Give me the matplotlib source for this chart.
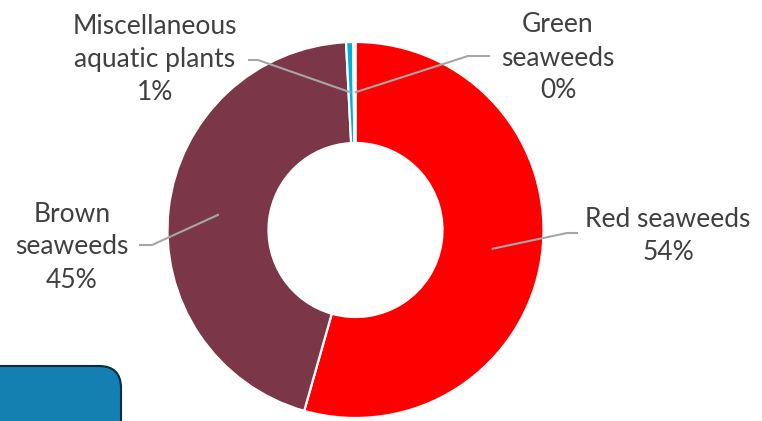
import numpy as np
import matplotlib.pyplot as plt
from matplotlib.patches import FancyBboxPatch

# production share by seaweed group
groups = ["Red seaweeds", "Brown\nseaweeds", "Miscellaneous\naquatic plants", "Green\nseaweeds"]
shares = [54.4, 44.8, 0.6, 0.2]
pct_labels = ["54%", "45%", "1%", "0%"]
colors = ["#FF0000", "#7B3648", "#00B0DC", "#5BA33B"]

plt.rcParams["font.family"] = ["Lato", "DejaVu Sans"]

W, H = 762, 421
fig = plt.figure(figsize=(W / 100, H / 100), dpi=100)
ax = fig.add_axes([0, 0, 1, 1])
ax.set_xlim(0, W)
ax.set_ylim(0, H)
ax.set_aspect("equal")
ax.axis("off")

cx, cy = 355.5, H - 230
r_out, r_in = 188, 87

wedges, _ = ax.pie(shares, colors=colors, startangle=90, counterclock=False,
                   center=(cx, cy), radius=r_out,
                   wedgeprops=dict(width=r_out - r_in, edgecolor="white", linewidth=1.6))
ax.set_xlim(0, W)
ax.set_ylim(0, H)

# label text position and leader line (kink, end) per wedge, in pixel coords
label_xy = [(668, 236), (72, 247), (155, 60), (558, 58)]
leaders = [[(567, 233), (578, 233)],
           [(152, 245), (139, 245)],
           [(258, 60), (248, 60)],
           [(468, 56), (490, 56)]]

r_mid = (r_out + r_in) / 2
for w, txt, pct, (tx, ty), pts in zip(wedges, groups, pct_labels, label_xy, leaders):
    ang = np.deg2rad((w.theta1 + w.theta2) / 2)
    sx, sy = cx + r_mid * np.cos(ang), cy + r_mid * np.sin(ang)
    xs = [sx] + [p[0] for p in pts]
    ys = [sy] + [H - p[1] for p in pts]
    ax.plot(xs, ys, color="#A6A6A6", lw=1.5, solid_capstyle="butt", zorder=3)
    ax.text(tx, H - ty, txt + "\n" + pct, ha="center", va="center",
            fontsize=19, color="#404040", linespacing=1.4)

# rounded callout box cut off at the bottom left
box = FancyBboxPatch((-40, -40), 161, H - 366 + 40, boxstyle="round,pad=0,rounding_size=22",
                     facecolor="#1480B1", edgecolor="#0B2A40", linewidth=1.5, zorder=4)
ax.add_patch(box)

fig.savefig("out.png", dpi=100, facecolor="white")
